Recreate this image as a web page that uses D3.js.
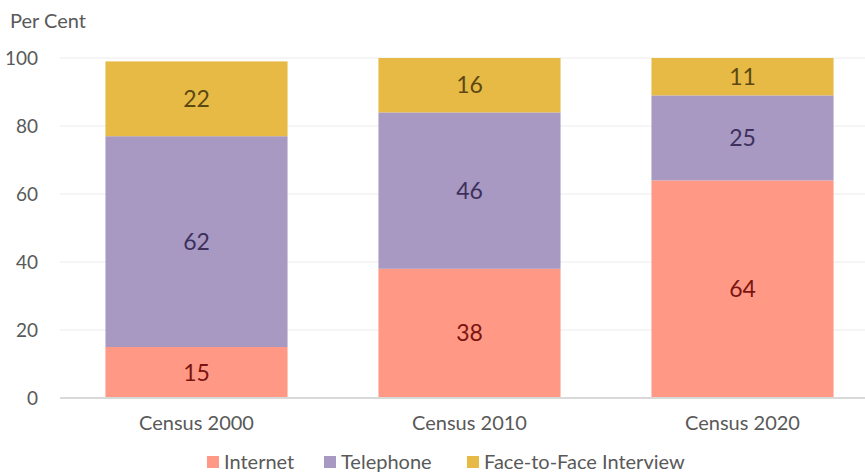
<!DOCTYPE html>
<html>
<head>
<meta charset="utf-8">
<script src="https://cdn.jsdelivr.net/npm/d3@7/dist/d3.min.js"></script>
<style>
  body { margin: 0; background: #fff; }
  svg { display: block; font-family: Lato, "Open Sans", sans-serif; }
</style>
</head>
<body>
<div id="chart"></div>
<script>
var categories = ['Census 2000', 'Census 2010', 'Census 2020'];
var seriesNames = ['Internet', 'Telephone', 'Face-to-Face Interview'];
var internet = [15, 38, 64];
var telephone = [62, 46, 25];
var faceToFace = [22, 16, 11];
var yTicks = [0, 20, 40, 60, 80, 100];

var colors = ['#ff9985', '#a899c2', '#e6ba45'];
var labelColors = ['#7a1410', '#3d305c', '#5c4812'];

var width = 865, height = 474;
var svg = d3.select('#chart').append('svg')
  .attr('width', width)
  .attr('height', height);

var x = d3.scaleBand()
  .domain(categories)
  .range([60, 879])
  .paddingInner(0.333)
  .paddingOuter(0.1665);

var y = d3.scaleLinear()
  .domain([0, 100])
  .range([398, 58]);

// gridlines
svg.append('g')
  .selectAll('line')
  .data(yTicks.slice(1))
  .enter().append('line')
  .attr('x1', 60).attr('x2', width)
  .attr('y1', function (d) { return y(d); })
  .attr('y2', function (d) { return y(d); })
  .attr('stroke', '#ececec')
  .attr('stroke-width', 1);

// y tick labels
var yAxis = svg.append('g')
  .attr('transform', 'translate(60,0)')
  .call(d3.axisLeft(y).tickValues(yTicks).tickSize(0).tickPadding(22));
yAxis.select('.domain').remove();
yAxis.selectAll('text')
  .attr('font-family', 'Lato, sans-serif')
  .attr('font-size', 19)
  .attr('fill', '#595959');

svg.append('text')
  .attr('x', 10).attr('y', 28)
  .attr('font-size', 20)
  .attr('fill', '#595959')
  .text('Per Cent');

// stacked bars
var rows = categories.map(function (c, i) {
  return { cat: c, Internet: internet[i], Telephone: telephone[i], 'Face-to-Face Interview': faceToFace[i] };
});
var stacked = d3.stack().keys(seriesNames)(rows);

var layers = svg.append('g')
  .selectAll('g')
  .data(stacked)
  .enter().append('g')
  .attr('fill', function (d, i) { return colors[i]; });

layers.selectAll('rect')
  .data(function (d) { return d; })
  .enter().append('rect')
  .attr('x', function (d) { return x(d.data.cat); })
  .attr('width', x.bandwidth())
  .attr('y', function (d) { return y(d[1]); })
  .attr('height', function (d) { return y(d[0]) - y(d[1]); });

layers.each(function (layer, li) {
  d3.select(this).selectAll('text')
    .data(layer)
    .enter().append('text')
    .attr('x', function (d) { return x(d.data.cat) + x.bandwidth() / 2; })
    .attr('y', function (d) { return y((d[0] + d[1]) / 2); })
    .attr('dy', '0.35em')
    .attr('text-anchor', 'middle')
    .attr('font-size', 23)
    .attr('fill', labelColors[li])
    .text(function (d) { return d[1] - d[0]; });
});

// baseline
svg.append('line')
  .attr('x1', 60).attr('x2', width)
  .attr('y1', y(0)).attr('y2', y(0))
  .attr('stroke', '#d9d9d9')
  .attr('stroke-width', 2);

// x labels
var xAxis = svg.append('g')
  .attr('transform', 'translate(0,' + y(0) + ')')
  .call(d3.axisBottom(x).tickSize(0).tickPadding(18));
xAxis.select('.domain').remove();
xAxis.selectAll('text')
  .attr('font-family', 'Lato, sans-serif')
  .attr('font-size', 20)
  .attr('fill', '#595959');

// legend
var legendX = [207, 324, 467];
var legend = svg.append('g')
  .selectAll('g')
  .data(seriesNames)
  .enter().append('g')
  .attr('transform', function (d, i) { return 'translate(' + legendX[i] + ',456)'; });
legend.append('rect')
  .attr('width', 12).attr('height', 12)
  .attr('fill', function (d, i) { return colors[i]; });
legend.append('text')
  .attr('x', 17).attr('y', 6)
  .attr('dy', '0.35em')
  .attr('font-size', 20)
  .attr('fill', '#595959')
  .text(function (d) { return d; });
</script>
</body>
</html>
